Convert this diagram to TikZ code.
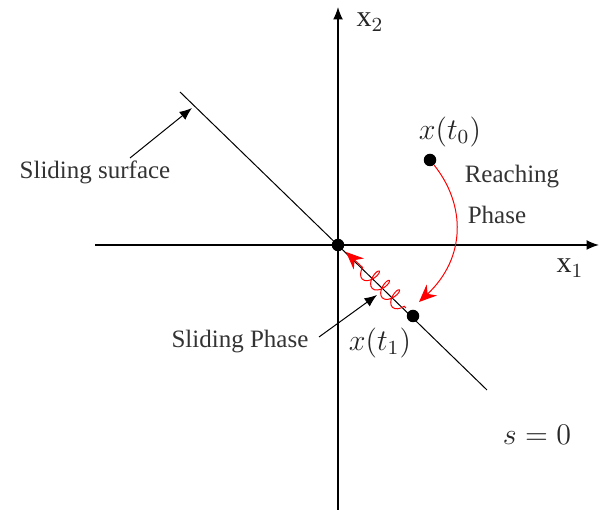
\documentclass[tikz,border=0pt]{standalone}
\usepackage{amsmath}
\usepackage{fontspec}
\setmainfont{Liberation Serif}
\usetikzlibrary{arrows.meta,decorations.pathmorphing,positioning}

\begin{document}
\begin{tikzpicture}[x=0.4pt,y=-0.4pt,
    dot/.style={circle,fill=black,inner sep=0pt,minimum size=5pt},
    txt/.style={text=black!80,inner sep=1pt},
    mth/.style={text=black!85,inner sep=1pt,font=\large},
    axis/.style={semithick,-{Latex[length=5pt,width=4pt]}}]
    \useasboundingbox (0,0) rectangle (600,510);
    % axes
    \coordinate (xl) at (95,245);
    \coordinate (xr) at (599,245);
    \coordinate (yb) at (338,510);
    \coordinate (yt) at (338,7);
    \draw[axis] (xl) -- (xr);
    \draw[axis] (yb) -- (yt);
    \node[mth] (lx1) at (570,268) {$\mathrm{x}_1$};
    \node[mth] (lx2) at (370,22) {$\mathrm{x}_2$};
    % sliding surface s=0
    \coordinate (sa) at (180,92);
    \coordinate (sb) at (487,390);
    \draw[thin] (sa) -- (sb);
    \node[mth] (s0) at (537,435) {$s=0$};
    % points
    \node[dot] (o) at (338,245) {};
    \node[dot] (p0) at (430,160) {};
    \node[dot] (p1) at (413,316) {};
    \node[mth] (lp0) at (450,132) {$x(t_0)$};
    \node[mth] (lp1) at (380,343) {$x(t_1)$};
    % reaching phase
    \coordinate (r1) at (419,302);
    \draw[red,thin,-{Stealth[length=7pt,width=6pt]}] (p0) .. controls (466,205) and (466,258) .. (r1);
    \node[txt] (rch) at (512,177) {Reaching};
    \node[txt] (phs) at (497,215) {Phase};
    % sliding phase
    \coordinate (c1) at (406,308);
    \coordinate (c2) at (346,252);
    \draw[red,thin,-{Stealth[length=7pt,width=6pt]},
      decorate,decoration={coil,amplitude=3.5pt,segment length=5.5pt,pre length=1pt,post length=5pt}] (c1) -- (c2);
    \node[txt] (sph) at (240,342) {Sliding Phase};
    \coordinate (a1) at (319,337);
    \coordinate (a2) at (377,295);
    \draw[thin,-{Latex[length=5pt,width=4pt]}] (a1) -- (a2);
    % surface label
    \node[txt] (ssf) at (95,172) {Sliding surface};
    \coordinate (b1) at (130,158);
    \coordinate (b2) at (192,108);
    \draw[thin,-{Latex[length=5pt,width=4pt]}] (b1) -- (b2);
\end{tikzpicture}
\end{document}
